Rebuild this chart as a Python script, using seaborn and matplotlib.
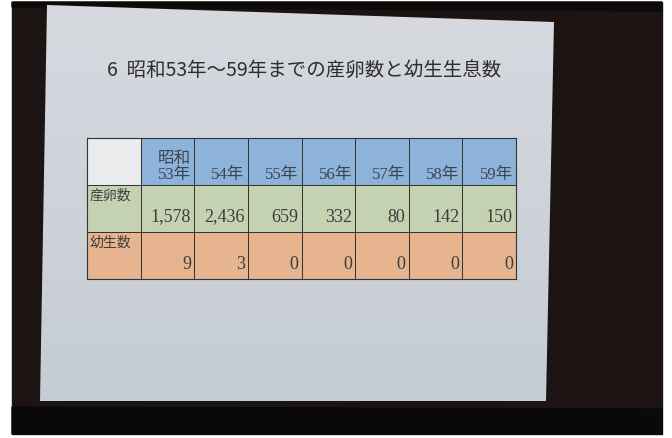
import numpy as np
import matplotlib
matplotlib.use("Agg")
import matplotlib.pyplot as plt
from matplotlib.colors import ListedColormap, to_rgb
from matplotlib.patches import Polygon
import seaborn as sns

# ---- data ----
title = "6  昭和53年～59年までの産卵数と幼生生息数"
years = ["昭和\n53年", "54年", "55年", "56年", "57年", "58年", "59年"]
row_labels = ["産卵数", "幼生数"]
eggs = [1578, 2436, 659, 332, 80, 142, 150]
larvae = [9, 3, 0, 0, 0, 0, 0]

sns.set_theme(style="white")
plt.rcParams['font.family'] = ['Noto Sans CJK JP', 'DejaVu Sans']

W, H = 672, 439
fig = plt.figure(figsize=(W / 100, H / 100), dpi=100, facecolor="white")

# background (photo of projected slide)
bg = fig.add_axes([0, 0, 1, 1])
bg.set_xlim(0, W)
bg.set_ylim(H, 0)
bg.axis("off")
bg.add_patch(Polygon([[12, 3], [662, 3], [662, 435], [12, 435]],
                     color="#1b1413", zorder=0))
bg.add_patch(Polygon([[12, 3], [662, 3], [662, 12], [12, 8]],
                     color="#0e0a0a", zorder=0))
bg.add_patch(Polygon([[12, 408], [662, 410], [662, 435], [12, 435]],
                     color="#0a0909", zorder=0))

slide = Polygon([[47, 6], [554, 23], [546, 402], [40, 402]],
                facecolor="none", edgecolor="none")
bg.add_patch(slide)
top_c = np.array(to_rgb("#d7d9df"))
bot_c = np.array(to_rgb("#c5ccd3"))
t = np.linspace(0, 1, 100)[:, None, None]
grad = top_c * (1 - t) + bot_c * t
grad = np.repeat(grad, 2, axis=1)
im = bg.imshow(grad, extent=[38, 556, 404, 4], aspect="auto", zorder=1,
               interpolation="bilinear")
im.set_clip_path(slide)

bg.text(107, 70, title, fontsize=14, color="#2e2e2e", va="center",
        ha="left", zorder=3)

# ---- table as heatmap ----
n = len(years)
codes = np.zeros((3, n + 1))
codes[0, 0] = 0
codes[0, 1:] = 1
codes[1, :] = 2
codes[2, :] = 3
cmap = ListedColormap(["#e9ebec", "#8db3da", "#c4d2b1", "#e6b48f"])

ax = fig.add_axes([87 / W, 1 - 280 / H, 429 / W, 141 / H])
sns.heatmap(codes, ax=ax, cmap=cmap, vmin=-0.5, vmax=3.5, cbar=False,
            linewidths=0.6, linecolor="#333333", xticklabels=False,
            yticklabels=False, square=False)
ax.set_xlim(0, n + 1)
ax.set_ylim(3, 0)
for s in ax.spines.values():
    s.set_visible(True)
    s.set_color("#333333")
    s.set_linewidth(0.8)

fam = ['Liberation Serif', 'Noto Sans CJK JP']
tc = "#3c3c3c"
for j, y in enumerate(years):
    ax.text(j + 1.94, 0.94, y, ha="right", va="bottom", fontsize=12,
            color="#3a4452", family=fam, linespacing=1.0)
for i, lab in enumerate(row_labels):
    ax.text(0.04, i + 1.06, lab, ha="left", va="top", fontsize=10,
            color="#404040", family=fam)
for j, v in enumerate(eggs):
    ax.text(j + 1.94, 1.66, f"{v:,}", ha="right", va="center", fontsize=13,
            color=tc, family=fam)
for j, v in enumerate(larvae):
    ax.text(j + 1.94, 2.68, f"{v:,}", ha="right", va="center", fontsize=13,
            color=tc, family=fam)

fig.savefig("out.png", dpi=100, facecolor=fig.get_facecolor())
